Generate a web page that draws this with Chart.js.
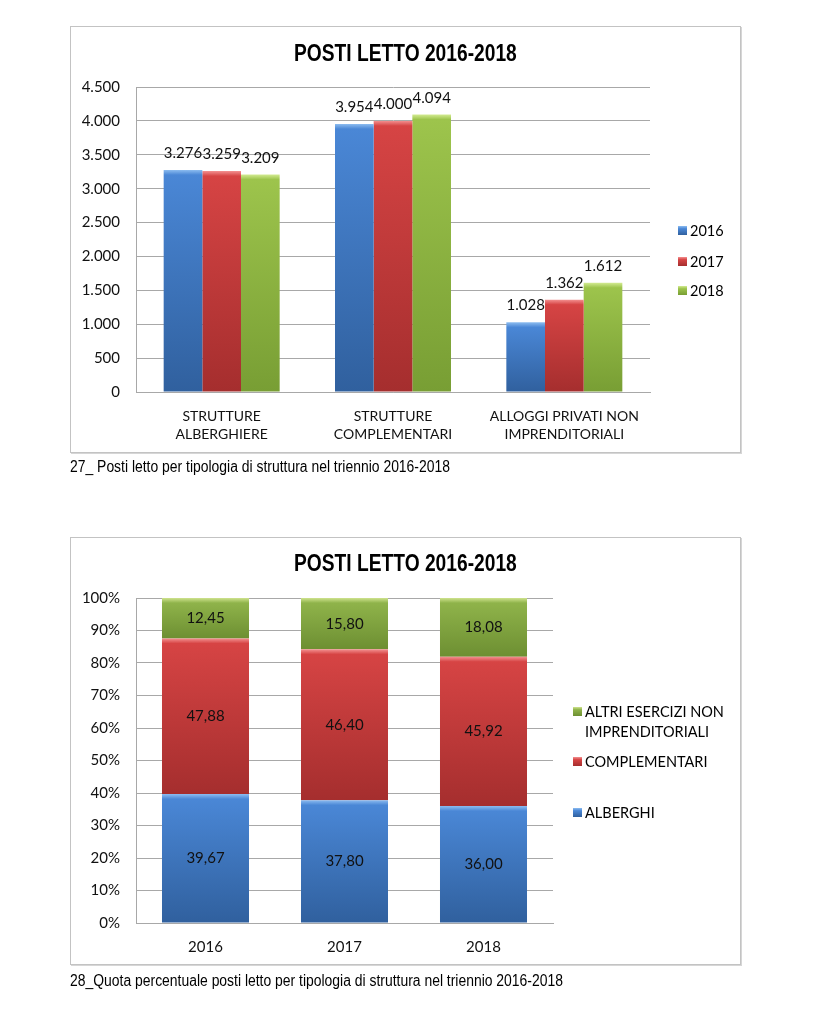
<!DOCTYPE html>
<html>
<head>
<meta charset="utf-8">
<script src="https://cdn.jsdelivr.net/npm/chart.js@4.4.0/dist/chart.umd.min.js"></script>
<style>
  body { margin: 0; background: #fff; width: 825px; height: 1024px; position: relative; font-family: Lato, sans-serif; }
  .box { position: absolute; left: 70px; width: 669px; height: 425px; border: 1px solid #c3c3c3; box-shadow: 1px 1px 0 #d6d6d6; }
  canvas { position: absolute; left: 70px; }
  .title { position: absolute; left: 70px; width: 671px; text-align: center; line-height: 28px;
           font: bold 24px "Liberation Sans", Arial, sans-serif; color: #000;
           transform: scaleX(0.8); transform-origin: 335px 0; }
  .caption { position: absolute; left: 70px; line-height: 18px; white-space: nowrap;
             font: 16px "Liberation Sans", Arial, sans-serif; color: #000;
             transform: scaleX(0.87); transform-origin: 0 0; }
  .leg { position: absolute; display: flex; align-items: flex-start; font: 14.5px Lato, sans-serif; line-height: 20px; color: #000; }
  .sq { width: 9px; height: 9px; margin: 5px 3px 0 0; flex: none; }
</style>
</head>
<body>

<canvas id="chart1" width="671" height="427" style="top:26px"></canvas>
<div class="box" style="top:26px"></div>
<div class="title" style="top:39px">POSTI LETTO 2016-2018</div>
<div class="leg" style="left:678px;top:221px"><span class="sq" style="background:linear-gradient(#8cbcf0,#4a87d6 30%,#30609e)"></span>2016</div>
<div class="leg" style="left:678px;top:252px"><span class="sq" style="background:linear-gradient(#f39090,#d64444 30%,#a52e2e)"></span>2017</div>
<div class="leg" style="left:678px;top:281px"><span class="sq" style="background:linear-gradient(#d3eb92,#9dc44c 30%,#789e34)"></span>2018</div>
<div class="caption" style="top:458px">27_ Posti letto per tipologia di struttura nel triennio 2016-2018</div>

<canvas id="chart2" width="671" height="428" style="top:537px"></canvas>
<div class="box" style="top:537px;height:426px"></div>
<div class="title" style="top:549px">POSTI LETTO 2016-2018</div>
<div class="leg" style="left:573px;top:702px"><span class="sq" style="background:linear-gradient(#cfe38e,#8fb34a 30%,#6d8f32)"></span><span>ALTRI ESERCIZI NON<br>IMPRENDITORIALI</span></div>
<div class="leg" style="left:573px;top:752px"><span class="sq" style="background:linear-gradient(#f39090,#d64444 30%,#a52e2e)"></span>COMPLEMENTARI</div>
<div class="leg" style="left:573px;top:803px"><span class="sq" style="background:linear-gradient(#8cbcf0,#4a87d6 30%,#30609e)"></span>ALBERGHI</div>
<div class="caption" style="top:972px">28_Quota percentuale posti letto per tipologia di struttura nel triennio 2016-2018</div>

<script>
// chart 27: posti letto per tipologia
const categories1 = [['STRUTTURE', 'ALBERGHIERE'], ['STRUTTURE', 'COMPLEMENTARI'], ['ALLOGGI PRIVATI NON', 'IMPRENDITORIALI']];
const years = ['2016', '2017', '2018'];
const beds2016 = [3276, 3954, 1028];
const beds2017 = [3259, 4000, 1362];
const beds2018 = [3209, 4094, 1612];

// chart 28: quota percentuale
const categories2 = ['2016', '2017', '2018'];
const seriesNames2 = ['ALBERGHI', 'COMPLEMENTARI', 'ALTRI ESERCIZI NON IMPRENDITORIALI'];
const shareAlberghi = [39.67, 37.80, 36.00];
const shareComplementari = [47.88, 46.40, 45.92];
const shareAltri = [12.45, 15.80, 18.08];

const blue = { hi: '#8cbcf0', base: '#4a87d6', dark: '#30609e' };
const red = { hi: '#f39090', base: '#d64444', dark: '#a52e2e' };
const green = { hi: '#d3eb92', base: '#9dc44c', dark: '#789e34' };
const olive = { hi: '#cfe38e', base: '#8fb34a', dark: '#6d8f32' };

const gridColor = '#a8a8a8';

const thousands = n => String(n).replace(/\B(?=(\d{3})+(?!\d))/g, '.');
const decimals = n => n.toFixed(2).replace('.', ',');

// bevel-like vertical gradient for each bar
function barFill(pal, stacked) {
  return function (ctx) {
    const chart = ctx.chart;
    if (!chart.chartArea || ctx.type !== 'data') return pal.base;
    const y = chart.scales.y;
    let start = 0;
    if (stacked) {
      for (let d = 0; d < ctx.datasetIndex; d++) start += chart.data.datasets[d].data[ctx.dataIndex];
    }
    const top = y.getPixelForValue(start + ctx.raw);
    const bottom = y.getPixelForValue(start);
    const h = Math.max(bottom - top, 1);
    const g = chart.ctx.createLinearGradient(0, top, 0, bottom);
    g.addColorStop(0, pal.hi);
    g.addColorStop(Math.min(5 / h, 0.4), pal.base);
    g.addColorStop(1, pal.dark);
    return g;
  };
}

function valueLabels(format, inside) {
  return {
    id: 'valueLabels',
    afterDatasetsDraw(chart) {
      const c = chart.ctx;
      c.save();
      c.font = '15px Lato, sans-serif';
      c.fillStyle = '#111';
      c.textAlign = 'center';
      chart.data.datasets.forEach((ds, di) => {
        chart.getDatasetMeta(di).data.forEach((el, i) => {
          const txt = format(ds.data[i]);
          if (inside) {
            c.textBaseline = 'middle';
            c.fillText(txt, el.x, (el.y + el.base) / 2);
          } else {
            c.textBaseline = 'alphabetic';
            c.fillText(txt, el.x, el.y - 12);
          }
        });
      });
      c.restore();
    }
  };
}

const tickFont = { family: 'Lato, sans-serif', size: 15 };
const catFont = { family: 'Lato, sans-serif', size: 14, lineHeight: 1.3 };

new Chart(document.getElementById('chart1'), {
  type: 'bar',
  data: {
    labels: categories1,
    datasets: [
      { label: years[0], data: beds2016, backgroundColor: barFill(blue, false) },
      { label: years[1], data: beds2017, backgroundColor: barFill(red, false) },
      { label: years[2], data: beds2018, backgroundColor: barFill(green, false) }
    ]
  },
  options: {
    responsive: false,
    animation: false,
    devicePixelRatio: 1,
    datasets: { bar: { categoryPercentage: 0.677, barPercentage: 1.0, borderWidth: 0 } },
    layout: { padding: { left: 0, right: 91, top: 61, bottom: 0 } },
    plugins: { legend: { display: false }, tooltip: { enabled: false } },
    scales: {
      x: {
        grid: { display: false },
        border: { display: true, color: gridColor },
        ticks: { color: '#111', font: catFont, padding: 7, maxRotation: 0, autoSkip: false },
        afterFit: s => { s.height = 61; }
      },
      y: {
        min: 0, max: 4500,
        grid: { color: gridColor, drawTicks: false },
        border: { display: true, color: gridColor },
        ticks: { stepSize: 500, color: '#111', font: tickFont, padding: 16, callback: v => thousands(v) },
        afterFit: s => { s.width = 66; }
      }
    }
  },
  plugins: [valueLabels(thousands, false)]
});

new Chart(document.getElementById('chart2'), {
  type: 'bar',
  data: {
    labels: categories2,
    datasets: [
      { label: seriesNames2[0], data: shareAlberghi, backgroundColor: barFill(blue, true) },
      { label: seriesNames2[1], data: shareComplementari, backgroundColor: barFill(red, true) },
      { label: seriesNames2[2], data: shareAltri, backgroundColor: barFill(olive, true) }
    ]
  },
  options: {
    responsive: false,
    animation: false,
    devicePixelRatio: 1,
    datasets: { bar: { categoryPercentage: 0.626, barPercentage: 1.0, borderWidth: 0 } },
    layout: { padding: { left: 0, right: 188, top: 61, bottom: 0 } },
    plugins: { legend: { display: false }, tooltip: { enabled: false } },
    scales: {
      x: {
        stacked: true,
        grid: { display: false },
        border: { display: true, color: gridColor },
        ticks: { color: '#111', font: { family: 'Lato, sans-serif', size: 15 }, padding: 7 },
        afterFit: s => { s.height = 42; }
      },
      y: {
        stacked: true,
        min: 0, max: 100,
        grid: { color: gridColor, drawTicks: false },
        border: { display: true, color: gridColor },
        ticks: { stepSize: 10, color: '#111', font: tickFont, padding: 16, callback: v => v + '%' },
        afterFit: s => { s.width = 66; }
      }
    }
  },
  plugins: [valueLabels(decimals, true)]
});
</script>
</body>
</html>
